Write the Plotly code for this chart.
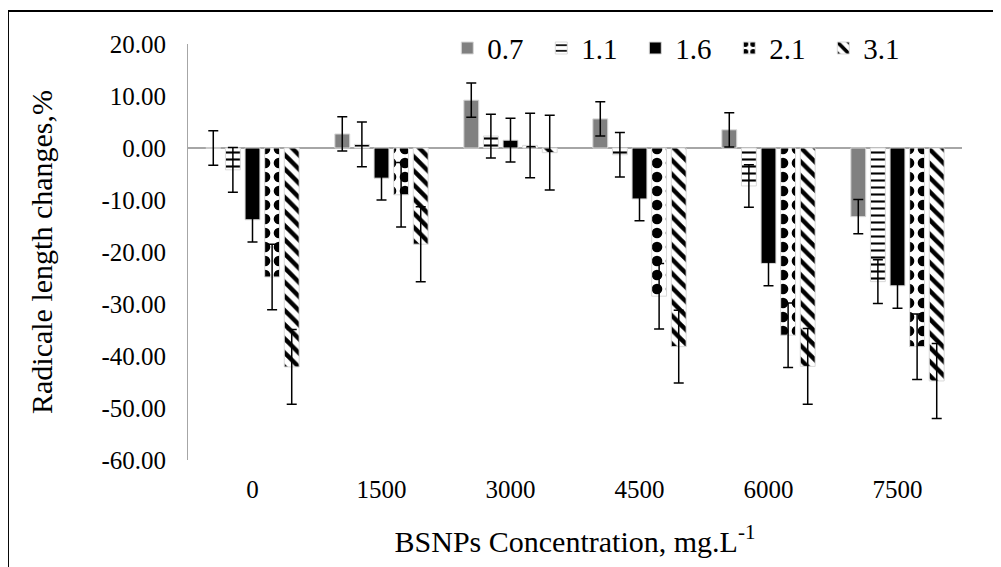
import plotly.graph_objects as go

# concentration groups (x axis categories)
concentrations = ["0", "1500", "3000", "4500", "6000", "7500"]

# series names (legend)
series_names = ["0.7", "1.1", "1.6", "2.1", "3.1"]

# mean radicle length change, %
values_07 = [0.0, 2.7, 9.2, 5.6, 3.5, -13.2]
values_11 = [-4.2, 0.7, 2.3, -1.3, -7.3, -25.7]
values_16 = [-13.8, -5.8, 1.5, -9.8, -22.2, -26.5]
values_21 = [-24.8, -9.0, 0.5, -28.5, -36.0, -38.2]
values_31 = [-42.1, -18.5, -0.9, -38.2, -42.0, -44.8]

# error bar half-lengths
errors_07 = [3.3, 3.3, 3.3, 3.3, 3.3, 3.3]
errors_11 = [4.3, 4.3, 4.2, 4.3, 4.1, 4.2]
errors_16 = [4.3, 4.2, 4.2, 4.2, 4.3, 4.3]
errors_21 = [6.3, 6.2, 6.2, 6.3, 6.2, 6.3]
errors_31 = [7.2, 7.2, 7.2, 7.0, 7.3, 7.2]

y_ticks = [20, 10, 0, -10, -20, -30, -40, -50, -60]
y_tick_labels = ["20.00", "10.00", "0.00", "-10.00", "-20.00", "-30.00", "-40.00", "-50.00", "-60.00"]

FONT = "Liberation Serif"

styles = [
    dict(color="#808080", pattern=dict(shape="")),
    dict(color="white", pattern=dict(shape="-", fgcolor="black", fgopacity=1, size=7, solidity=0.3)),
    dict(color="black", pattern=dict(shape="")),
    dict(color="white", pattern=dict(shape=".", fgcolor="black", fgopacity=1, size=14, solidity=0.45)),
    dict(color="white", pattern=dict(shape="\\", fgcolor="black", fgopacity=1, size=10, solidity=0.45)),
]

all_values = [values_07, values_11, values_16, values_21, values_31]
all_errors = [errors_07, errors_11, errors_16, errors_21, errors_31]

fig = go.Figure()
for name, vals, errs, st in zip(series_names, all_values, all_errors, styles):
    fig.add_trace(
        go.Bar(
            x=concentrations,
            y=vals,
            name=name,
            marker=dict(
                color=st["color"],
                pattern=st["pattern"],
                line=dict(color="#d9d9d9", width=1),
            ),
            error_y=dict(type="data", array=errs, visible=True, color="black", thickness=1.5, width=5),
        )
    )

# page body adds an 8px offset, so the figure is 8px smaller and margins shifted
fig.update_layout(
    width=993,
    height=559,
    margin=dict(l=180, r=39, t=36, b=107, autoexpand=False),
    paper_bgcolor="white",
    plot_bgcolor="white",
    font=dict(family=FONT, size=24, color="black"),
    barmode="group",
    bargap=0.24,
    bargroupgap=0.24,
    legend=dict(
        orientation="h",
        x=0.335,
        xanchor="left",
        y=0.99,
        yanchor="middle",
        font=dict(family=FONT, size=29, color="black"),
        entrywidth=49,
        entrywidthmode="pixels",
        itemwidth=30,
        bgcolor="rgba(0,0,0,0)",
    ),
    showlegend=True,
    shapes=[
        dict(type="rect", xref="paper", yref="paper", x0=-0.2326, x1=1.2, y0=-0.4, y1=1.0793,
             line=dict(color="black", width=2), fillcolor="rgba(0,0,0,0)", layer="below"),
    ],
)

fig.update_xaxes(
    type="category",
    showline=False,
    showgrid=False,
    ticks="",
    ticklabelstandoff=12,
    tickfont=dict(family=FONT, size=25, color="black"),
    title=dict(text="BSNPs Concentration, mg.L<sup>-1</sup>", font=dict(family=FONT, size=30, color="black"), standoff=28),
)
fig.update_yaxes(
    range=[-60, 20],
    tickvals=y_ticks,
    ticktext=y_tick_labels,
    showline=True,
    linecolor="#a6a6a6",
    linewidth=1,
    showgrid=False,
    zeroline=True,
    zerolinecolor="#a6a6a6",
    zerolinewidth=1.5,
    ticks="",
    ticklabelstandoff=16,
    tickfont=dict(family=FONT, size=25, color="black"),
    title=dict(text="Radicale length changes,%", font=dict(family=FONT, size=30, color="black"), standoff=39),
)

fig.write_html("out.html")
